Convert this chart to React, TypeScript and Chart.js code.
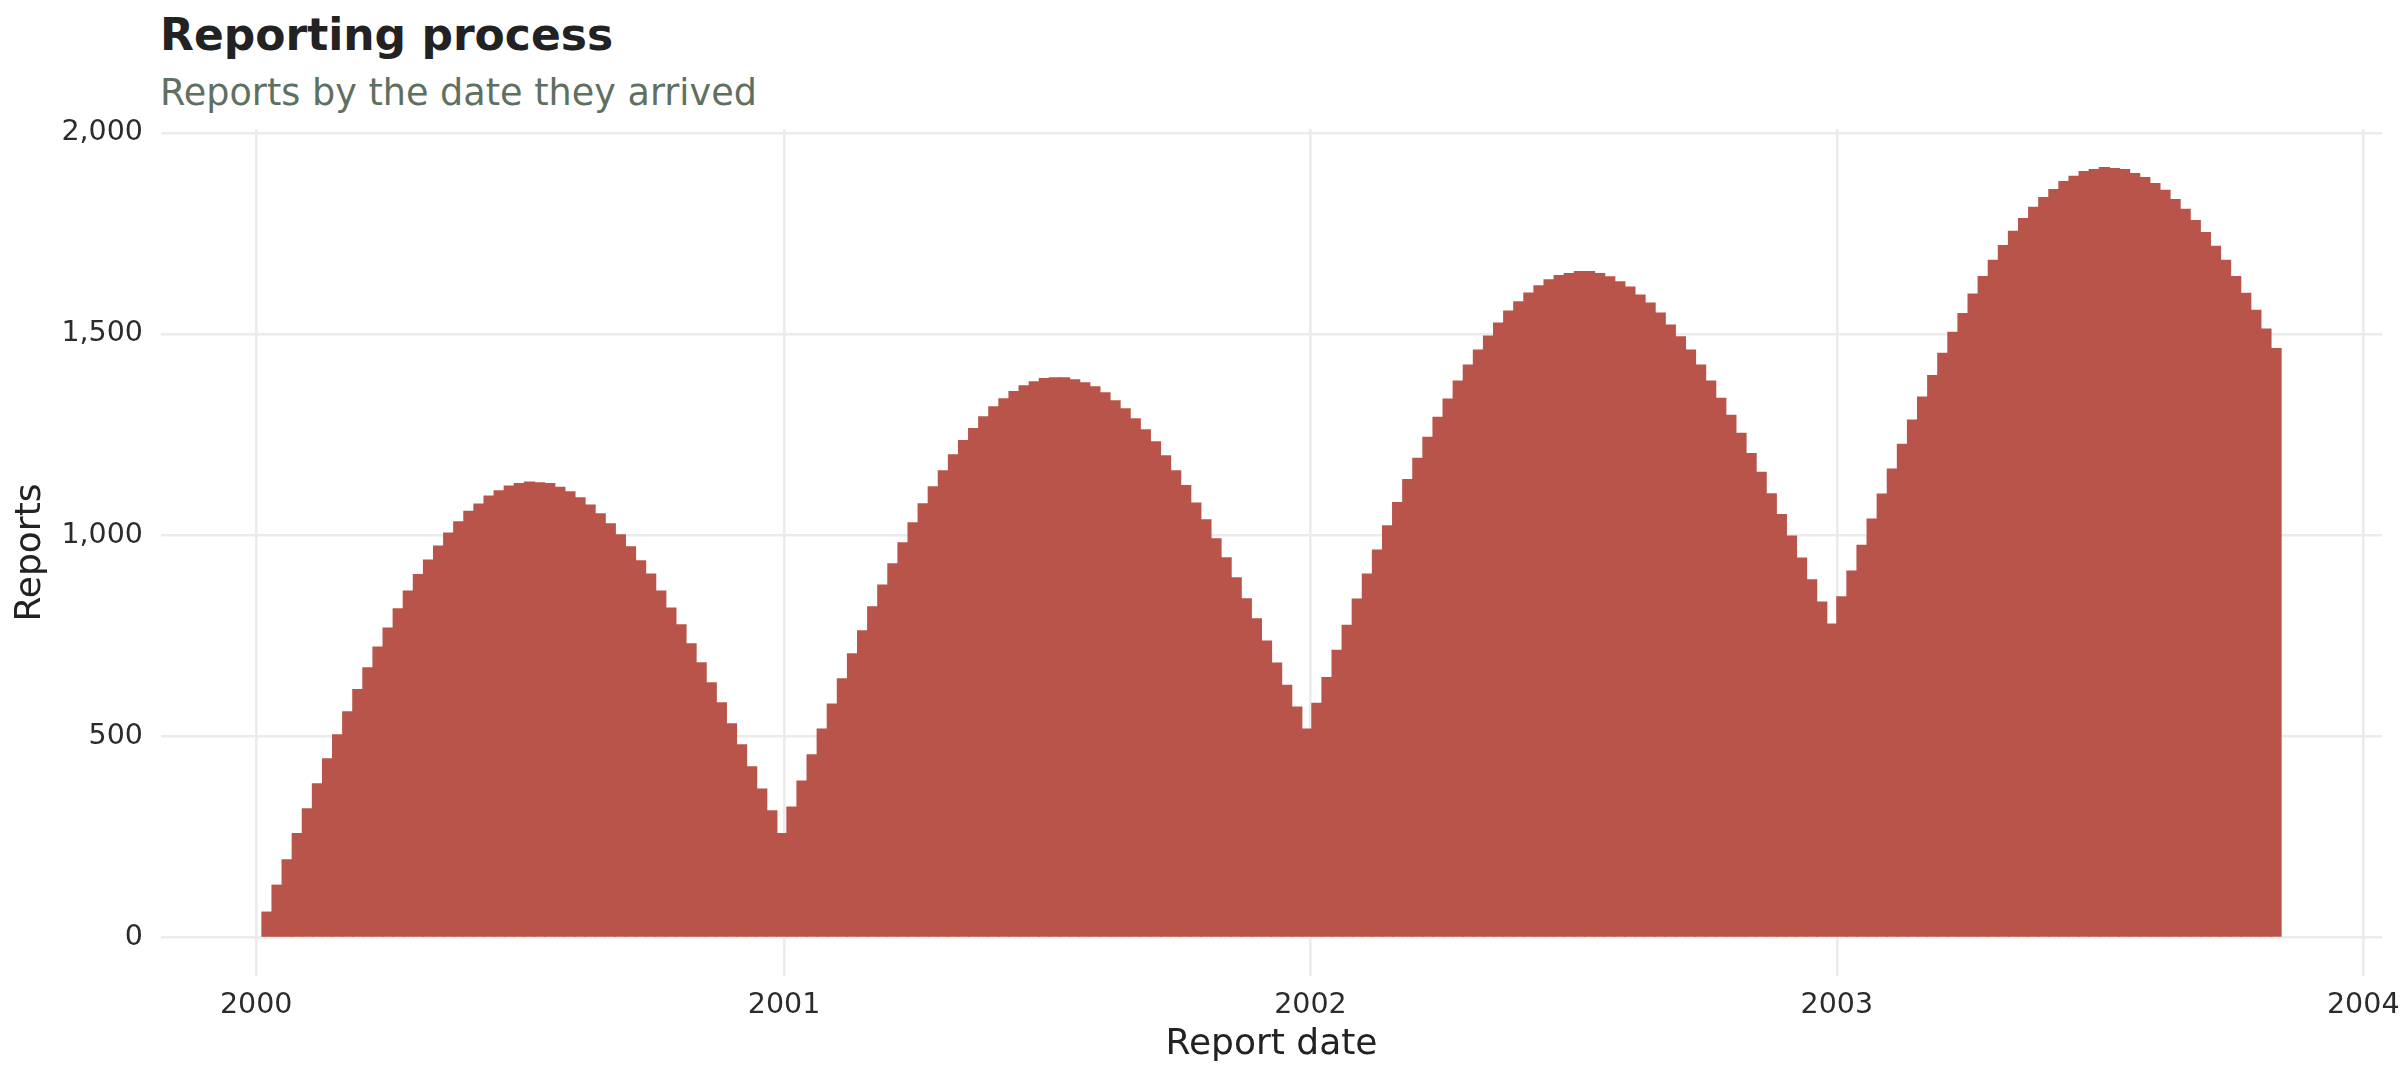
import { useEffect, useRef } from 'react';
import { Chart, registerables } from 'chart.js';

Chart.register(...registerables);

// weekly bins, first bin starts on this day
const binStart = '2000-01-05';
const binDays = 7;

const reports2000 = [
  63, 130, 193, 258, 320, 382, 444, 504, 561, 616, 670, 722, 769, 817, 861, 902, 938, 973, 1005, 1033,
  1059, 1077, 1097, 1110, 1122, 1128, 1132, 1130, 1128, 1119, 1108, 1093, 1075, 1053, 1028, 1001, 971, 936, 903, 861,
  819, 777, 730, 683, 633, 583, 531, 479, 424, 369, 315, 258,
];
const reports2001 = [
  324, 389, 454, 518, 580, 643, 705, 762, 822, 876, 929, 981, 1031, 1078, 1120, 1160, 1200, 1235, 1265, 1294,
  1319, 1339, 1357, 1371, 1381, 1389, 1391, 1391, 1386, 1379, 1369, 1354, 1334, 1314, 1289, 1262, 1232, 1197, 1160, 1123,
  1080, 1038, 991, 944, 894, 842, 792, 737, 682, 627, 573, 518,
];
const reports2002 = [
  582, 646, 714, 776, 841, 903, 963, 1023, 1081, 1138, 1191, 1243, 1293, 1338, 1383, 1423, 1460, 1495, 1527, 1557,
  1580, 1602, 1620, 1635, 1645, 1650, 1655, 1655, 1650, 1642, 1630, 1617, 1597, 1577, 1552, 1522, 1493, 1460, 1423, 1383,
  1340, 1298, 1253, 1203, 1156, 1103, 1051, 998, 943, 889, 834, 779,
];
const reports2003 = [
  847, 911, 975, 1040, 1102, 1164, 1226, 1286, 1343, 1397, 1452, 1504, 1551, 1599, 1643, 1683, 1720, 1755, 1787, 1815,
  1839, 1859, 1879, 1892, 1904, 1909, 1914, 1911, 1909, 1899, 1889, 1874, 1857, 1834, 1810, 1782, 1752, 1718, 1683, 1643,
  1601, 1559, 1512, 1464,
];

const xTickYears = ['2000', '2001', '2002', '2003', '2004'];
const yTicks = [0, 500, 1000, 1500, 2000];

const FONT = '"DejaVu Sans", sans-serif';
const DAY = 86400000;
const origin = Date.UTC(2000, 0, 1);
const dayOf = (iso: string) => (Date.parse(iso + 'T00:00:00Z') - origin) / DAY;

export default function App() {
  const canvasRef = useRef<HTMLCanvasElement | null>(null);

  useEffect(() => {
    document.body.style.margin = '0';
    if (!canvasRef.current) return;

    const counts = [...reports2000, ...reports2001, ...reports2002, ...reports2003];
    const first = dayOf(binStart);
    const points = counts.map((y, i) => ({ x: first + binDays * i + binDays / 2, y }));
    const xTickDays = xTickYears.map((y) => dayOf(`${y}-01-01`));

    const chart = new Chart(canvasRef.current, {
      type: 'bar',
      data: {
        datasets: [
          {
            data: points,
            backgroundColor: '#b8544a',
            borderWidth: 0,
            barPercentage: 1,
            categoryPercentage: 1,
            inflateAmount: 0.6,
          },
        ],
      },
      options: {
        animation: false,
        responsive: false,
        devicePixelRatio: 1,
        layout: { padding: { top: 129, right: 18, bottom: 0, left: 0 } },
        plugins: {
          legend: { display: false },
          tooltip: { enabled: false },
        },
        scales: {
          x: {
            type: 'linear',
            offset: false,
            min: -66,
            max: 1474,
            afterBuildTicks: (scale: any) => {
              scale.ticks = xTickDays.map((v) => ({ value: v }));
            },
            afterFit: (scale: any) => {
              // the 2004 label may hang past the panel, as in the original
              scale.height = 104;
              scale.paddingLeft = 0;
              scale.paddingRight = 0;
            },
            grid: { color: '#ebebeb', lineWidth: 2.6, drawTicks: false, offset: false },
            border: { display: false },
            ticks: {
              padding: 12,
              color: '#2b2b2b',
              font: { family: FONT, size: 28.5 },
              maxRotation: 0,
              autoSkip: false,
              callback: (value: any) => {
                const i = xTickDays.indexOf(Number(value));
                return i >= 0 ? xTickYears[i] : '';
              },
            },
            title: {
              display: true,
              text: 'Report date',
              color: '#222222',
              font: { family: FONT, size: 36 },
              padding: { top: 0, bottom: 14 },
            },
          },
          y: {
            min: -95.7,
            max: 2009.7,
            afterBuildTicks: (scale: any) => {
              scale.ticks = yTicks.map((v) => ({ value: v }));
            },
            afterFit: (scale: any) => {
              scale.width = 161;
            },
            grid: { color: '#ebebeb', lineWidth: 2.6, drawTicks: false },
            border: { display: false },
            ticks: {
              padding: 18,
              color: '#2b2b2b',
              font: { family: FONT, size: 28.5 },
              callback: (value: any) => Number(value).toLocaleString('en-US'),
            },
            title: {
              display: true,
              text: 'Reports',
              color: '#222222',
              font: { family: FONT, size: 36 },
              padding: { top: 9, bottom: 0 },
            },
          },
        },
      },
    });

    return () => {
      chart.destroy();
    };
  }, []);

  return (
    <div style={{ position: 'relative', width: 2400, height: 1080, overflow: 'hidden', background: '#fff' }}>
      <div
        style={{
          position: 'absolute',
          left: 160,
          top: 13,
          fontFamily: FONT,
          fontWeight: 'bold',
          fontSize: 44,
          lineHeight: 1,
          color: '#222222',
          whiteSpace: 'nowrap',
        }}
      >
        Reporting process
      </div>
      <div
        style={{
          position: 'absolute',
          left: 160,
          top: 75,
          fontFamily: FONT,
          fontSize: 36.6,
          lineHeight: 1,
          color: '#607060',
          whiteSpace: 'nowrap',
        }}
      >
        Reports by the date they arrived
      </div>
      <canvas
        ref={canvasRef}
        width={2400}
        height={1080}
        style={{ position: 'absolute', left: 0, top: 0, width: 2400, height: 1080 }}
      />
    </div>
  );
}
